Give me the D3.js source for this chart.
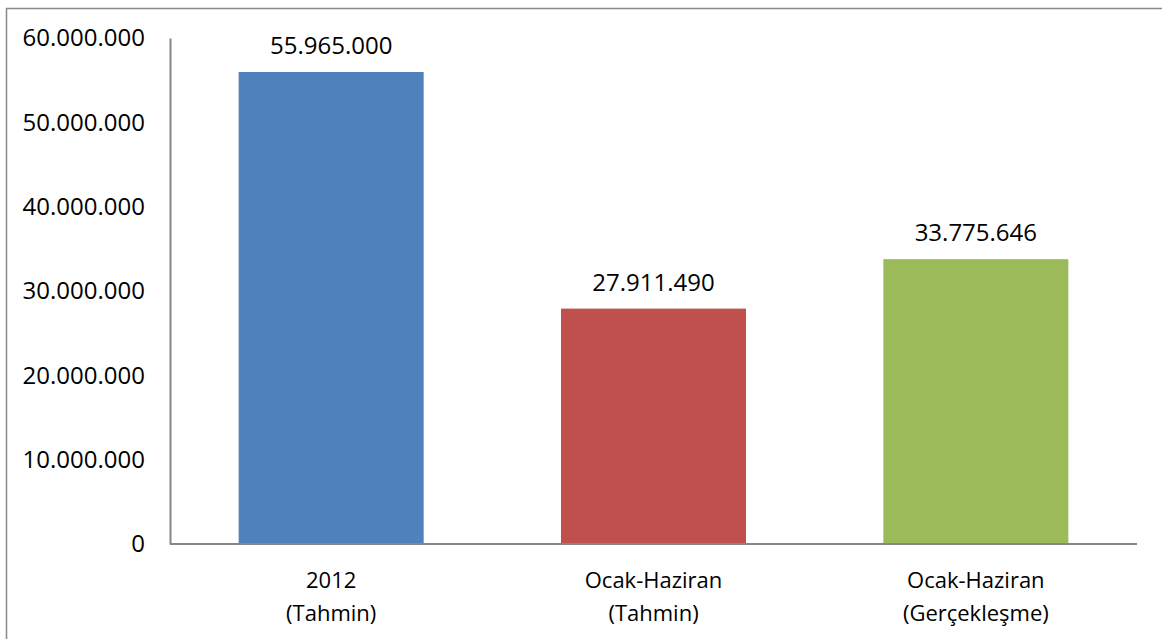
<!DOCTYPE html>
<html>
<head>
<meta charset="utf-8">
<script src="https://cdnjs.cloudflare.com/ajax/libs/d3/7.8.5/d3.min.js"></script>
<style>
  html, body { margin: 0; padding: 0; background: #fff; }
  svg text { font-family: "Open Sans", "Noto Sans", sans-serif; fill: #000; }
</style>
</head>
<body>
<div id="chart"></div>
<script>
const categories = [["2012", "(Tahmin)"], ["Ocak-Haziran", "(Tahmin)"], ["Ocak-Haziran", "(Gerçekleşme)"]];
const values = [55965000, 27911490, 33775646];
const colors = ["#4F81BD", "#C0504D", "#9BBB59"];
const yTicks = [0, 10000000, 20000000, 30000000, 40000000, 50000000, 60000000];

const width = 1162, height = 639;
const margin = {top: 38, right: 25, bottom: 95, left: 170};

const svg = d3.select("#chart").append("svg")
    .attr("width", width)
    .attr("height", height);

// chart border
svg.append("rect")
    .attr("x", 6.5).attr("y", 8.5)
    .attr("width", width + 10).attr("height", height + 10)
    .attr("fill", "none")
    .attr("stroke", "#898989")
    .attr("stroke-width", 1.5);

const fmt = v => d3.format(",")(v).replace(/,/g, ".");

const x = d3.scaleBand()
    .domain(d3.range(values.length))
    .range([margin.left, width - margin.right])
    .paddingInner(0.426)
    .paddingOuter(0.213);

const y = d3.scaleLinear()
    .domain([0, 60000000])
    .range([height - margin.bottom, margin.top]);

const g = svg.append("g");

// bars
g.selectAll("rect.bar")
    .data(values)
    .enter().append("rect")
    .attr("class", "bar")
    .attr("x", (d, i) => x(i))
    .attr("y", d => y(d))
    .attr("width", x.bandwidth())
    .attr("height", d => y(0) - y(d))
    .attr("fill", (d, i) => colors[i]);

// value labels
g.selectAll("text.val")
    .data(values)
    .enter().append("text")
    .attr("class", "val")
    .attr("x", (d, i) => x(i) + x.bandwidth() / 2)
    .attr("y", d => y(d) - 18)
    .attr("text-anchor", "middle")
    .style("font-size", "24px")
    .text(d => fmt(d));

// y axis
const yAxis = d3.axisLeft(y)
    .tickValues(yTicks)
    .tickSize(0)
    .tickPadding(25)
    .tickFormat(fmt);

const ya = svg.append("g")
    .attr("transform", "translate(" + margin.left + ",0)")
    .call(yAxis);
ya.select(".domain").attr("stroke", "#868686").attr("stroke-width", 2);
ya.selectAll("text").style("font-size", "24px");

// x axis line
svg.append("line")
    .attr("x1", margin.left).attr("x2", width - margin.right)
    .attr("y1", y(0)).attr("y2", y(0))
    .attr("stroke", "#868686")
    .attr("stroke-width", 2);

// category labels
const cat = svg.selectAll("text.cat")
    .data(categories)
    .enter().append("text")
    .attr("class", "cat")
    .attr("text-anchor", "middle")
    .style("font-size", "22px")
    .attr("transform", (d, i) => "translate(" + (x(i) + x.bandwidth() / 2) + "," + (y(0) + 44) + ")");

cat.selectAll("tspan")
    .data(d => d)
    .enter().append("tspan")
    .attr("x", 0)
    .attr("dy", (d, i) => i === 0 ? 0 : 33)
    .text(d => d);
</script>
</body>
</html>
